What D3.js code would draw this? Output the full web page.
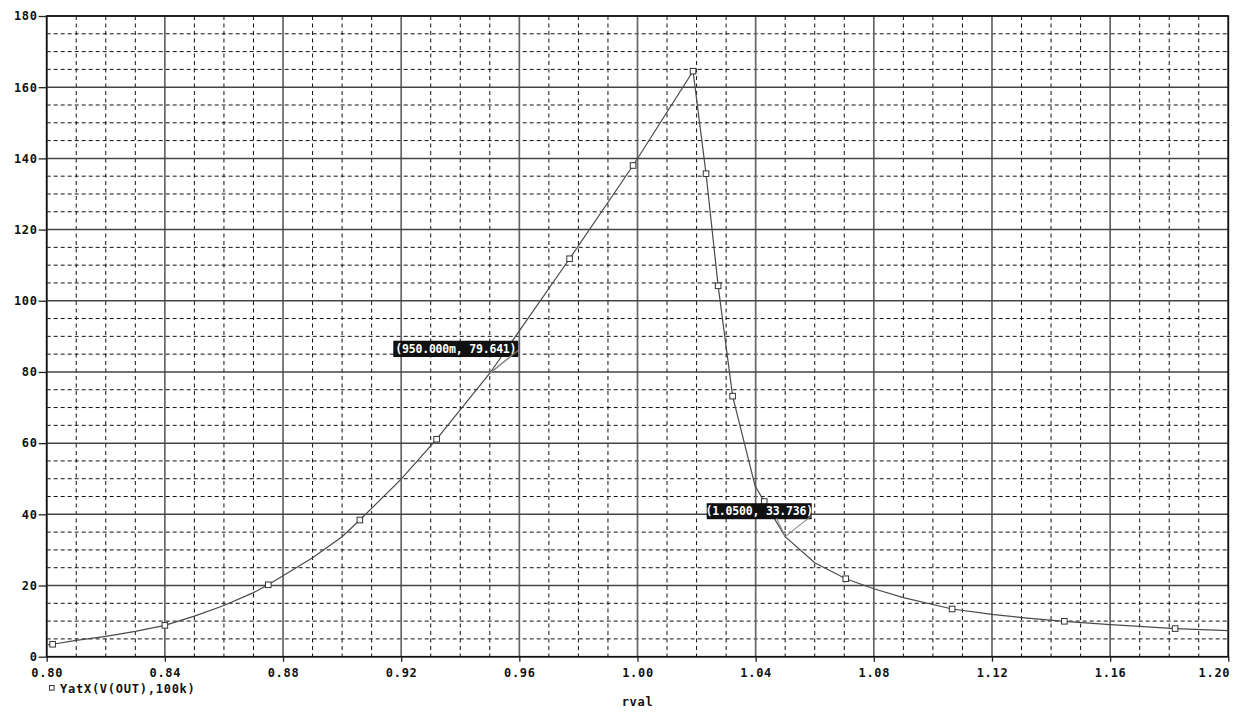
<!DOCTYPE html>
<html><head><meta charset="utf-8">
<script src="https://cdn.jsdelivr.net/npm/d3@7"></script>
<style>body{margin:0;background:#fff}svg{display:block}</style>
</head><body>
<script>
// ---- data ----
const xTicks = [0.80,0.84,0.88,0.92,0.96,1.00,1.04,1.08,1.12,1.16,1.20];
const xTickLabels = ["0.80","0.84","0.88","0.92","0.96","1.00","1.04","1.08","1.12","1.16","1.20"];
const yTicks = [0,20,40,60,80,100,120,140,160,180];
const yTickLabels = ["0","20","40","60","80","100","120","140","160","180"];
const lineX = [0.800,0.802,0.81,0.82,0.83,0.840,0.85,0.86,0.87,0.875,0.890,0.900,0.906,0.920,0.932,0.950,0.977,0.9985,1.0188,1.0232,1.0273,1.0322,1.0398,1.0429,1.050,1.060,1.0705,1.08,1.09,1.1065,1.12,1.13,1.1445,1.16,1.17,1.182,1.200];
const lineY = [3.3,3.5,4.6,5.7,7.1,8.8,11.4,14.4,18.0,20.2,27.8,33.7,38.4,49.9,61.1,79.641,111.8,138.0,164.5,135.7,104.2,73.2,48.0,43.6,33.736,26.4,21.9,19.1,16.6,13.4,11.9,11.0,9.95,9.0,8.5,7.9,7.3];
const markerX = [0.802,0.840,0.875,0.906,0.932,0.977,0.9985,1.0188,1.0232,1.0273,1.0322,1.0429,1.0705,1.1065,1.1445,1.182];
const markerY = [3.5,8.8,20.2,38.4,61.1,111.8,138.0,164.5,135.7,104.2,73.2,43.6,21.9,13.4,9.95,7.9];
const annX = [0.95, 1.05];
const annY = [79.641, 33.736];
const annLabels = ["(950.000m, 79.641)", "(1.0500, 33.736)"];
const legendLabel = "YatX(V(OUT),100k)";
const xTitle = "rval";

// ---- layout ----
const W = 1239, H = 723;
const svg = d3.select("body").append("svg").attr("width", W).attr("height", H);
const x = d3.scaleLinear().domain([0.8, 1.2]).range([46.7, 1228.3]);
const y = d3.scaleLinear().domain([0, 180]).range([656.7, 16]);
const FONT = "'DejaVu Sans Mono', 'Liberation Mono', monospace";

const g = svg.append("g");

// minor dashed grid
const xMinor = d3.range(0, 41).map(i => 0.8 + i*0.01).filter((v,i) => i % 4 !== 0);
const yMinor = d3.range(0, 37).map(i => i*5).filter((v,i) => i % 4 !== 0);
g.selectAll(".vmin").data(xMinor).join("line")
  .attr("x1", d => x(d)).attr("x2", d => x(d)).attr("y1", y(180)).attr("y2", y(0))
  .attr("stroke", "#111").attr("stroke-width", 1).attr("stroke-dasharray", "4,3.5");
g.selectAll(".hmin").data(yMinor).join("line")
  .attr("x1", x(0.8)).attr("x2", x(1.2)).attr("y1", d => y(d)).attr("y2", d => y(d))
  .attr("stroke", "#111").attr("stroke-width", 1).attr("stroke-dasharray", "4,3");

// major solid grid
g.selectAll(".vmaj").data(xTicks).join("line")
  .attr("x1", d => x(d)).attr("x2", d => x(d)).attr("y1", y(180)).attr("y2", y(0))
  .attr("stroke", "#666").attr("stroke-width", 1.7);
g.selectAll(".hmaj").data(yTicks).join("line")
  .attr("x1", x(0.8)).attr("x2", x(1.2)).attr("y1", d => y(d)).attr("y2", d => y(d))
  .attr("stroke", "#444").attr("stroke-width", 1.5);

// frame
g.append("rect").attr("x", x(0.8)).attr("y", y(180)).attr("width", x(1.2)-x(0.8)).attr("height", y(0)-y(180))
  .attr("fill", "none").attr("stroke", "#111").attr("stroke-width", 1.6);

// axes via d3
const xAxis = d3.axisBottom(x).tickValues(xTicks).tickSize(5).tickPadding(4)
  .tickFormat((d,i) => xTickLabels[i]);
const yAxis = d3.axisLeft(y).tickValues(yTicks).tickSize(8).tickPadding(1)
  .tickFormat((d,i) => yTickLabels[i]);
const gx = svg.append("g").attr("transform", `translate(0,${y(0)})`).call(xAxis);
const gy = svg.append("g").attr("transform", `translate(${x(0.8)},0)`).call(yAxis);
[gx, gy].forEach(a => {
  a.select(".domain").remove();
  a.selectAll(".tick line").attr("stroke", "#222").attr("stroke-width", 1.3);
  a.selectAll(".tick text").attr("fill", "#111").style("font-family", FONT)
    .style("font-size", "12px").style("font-weight", "bold").style("letter-spacing", "0.7px");
});
gx.selectAll(".tick text").attr("dy", "0.95em");
// last x label is pulled inside the right edge, as in the reference
gx.selectAll(".tick text").filter((d,i,n) => i === n.length - 1)
  .attr("text-anchor", "end").attr("x", 1.5);

// curve
const pts = lineX.map((v,i) => [v, lineY[i]]);
svg.append("path").datum(pts)
  .attr("d", d3.line().x(d => x(d[0])).y(d => y(d[1])).curve(d3.curveLinear))
  .attr("fill", "none").attr("stroke", "#4a4a4a").attr("stroke-width", 1.2);

// markers
const mk = markerX.map((v,i) => [v, markerY[i]]);
svg.selectAll(".mk").data(mk).join("rect")
  .attr("x", d => x(d[0]) - 2.8).attr("y", d => y(d[1]) - 2.8)
  .attr("width", 5.6).attr("height", 5.6)
  .attr("fill", "#fff").attr("stroke", "#333").attr("stroke-width", 1);

// annotations
const boxes = [
  {dx1: -96.5, dx2: 28.5, dy1: -32.5, dy2: -16.2, arms: [[22, -18], [28.5, -23]]},
  {dx1: -78.5, dx2: 26.5, dy1: -33.4, dy2: -17.4, arms: [[-8.5, -18.5], [26.5, -21]]}
];
annX.forEach((ax, i) => {
  const px = x(ax), py = y(annY[i]), b = boxes[i];
  const ga = svg.append("g");
  ga.append("rect").attr("x", px + b.dx1).attr("y", py + b.dy1)
    .attr("width", b.dx2 - b.dx1).attr("height", b.dy2 - b.dy1).attr("fill", "#111");
  ga.append("text").attr("x", px + (b.dx1 + b.dx2)/2).attr("y", py + (b.dy1 + b.dy2)/2)
    .attr("dy", "0.36em").attr("text-anchor", "middle").attr("fill", "#fff")
    .style("font-family", FONT).style("font-size", "11.5px").style("font-weight", "bold")
    .style("letter-spacing", "-0.2px").text(annLabels[i]);
  b.arms.forEach(a => {
    ga.append("line").attr("x1", px).attr("y1", py).attr("x2", px + a[0]).attr("y2", py + a[1])
      .attr("stroke", "#888").attr("stroke-width", 1.1);
  });
});

// legend
svg.append("rect").attr("x", 49.5).attr("y", 685.5).attr("width", 4.6).attr("height", 4.6)
  .attr("fill", "#fff").attr("stroke", "#333").attr("stroke-width", 1);
svg.append("text").attr("x", 60).attr("y", 692.7).attr("fill", "#111")
  .style("font-family", FONT).style("font-size", "12px").style("font-weight", "bold")
  .style("letter-spacing", "0.75px").text(legendLabel);

// x title
svg.append("text").attr("x", x(1.0)).attr("y", 706).attr("text-anchor", "middle").attr("fill", "#111")
  .style("font-family", FONT).style("font-size", "12px").style("font-weight", "bold")
  .style("letter-spacing", "0.7px").text(xTitle);
</script>
</body></html>
